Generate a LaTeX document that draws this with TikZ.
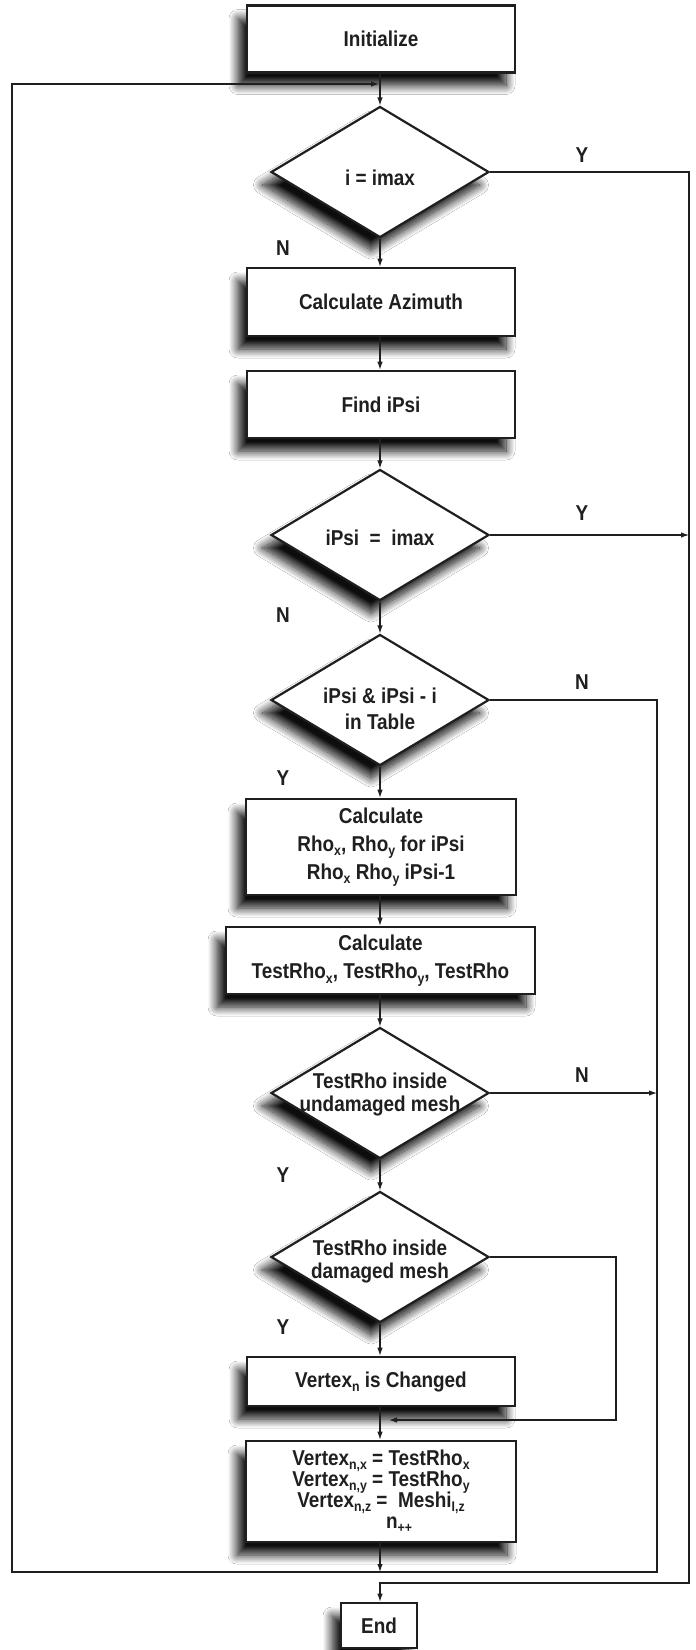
\documentclass[tikz,border=0pt]{standalone}
\usepackage{fontspec}
\setmainfont{Liberation Sans}[FakeStretch=0.88]
\usetikzlibrary{shapes.geometric, arrows.meta, shadows.blur}

% lowered small text for indices
\newcommand{\lo}[1]{\raisebox{-0.2em}{\fontsize{14}{14}\selectfont #1}}

\tikzset{
  txt/.style={font={\fontsize{21.5}{28}\selectfont\bfseries\lineskiplimit=-40pt\relax}, text=black!88},
  dropsh/.style={blur shadow={shadow xshift=-9pt, shadow yshift=-13pt, shadow blur radius=9pt, shadow blur steps=14, shadow opacity=95}},
  box/.style={txt, rectangle, draw=black!88, line width=2.6pt, fill=white,
              minimum width=268pt, minimum height=67pt, inner sep=0pt, align=center, dropsh},
  dec/.style={diamond, draw=black!88, line width=2.2pt, fill=white,
              minimum width=218pt, minimum height=131pt, inner sep=0pt, dropsh},
  dtext/.style={txt, align=center, inner sep=0pt},
  lbl/.style={txt, inner sep=0pt},
  conn/.style={line width=1.1pt, draw=black!88},
  arr/.style={conn, -{Latex[length=8pt,width=5.5pt]}},
}

\begin{document}
\begin{tikzpicture}[x=1pt,y=-1pt]
\useasboundingbox (0,0) rectangle (696,1650);
\fill[white] (0,0) rectangle (696,1650);

% process steps and decisions
\node[box] (init) at (381,39) {Initialize};
\node[dec] (d1) at (380,172) {};
\node[dtext] (d1t) at (380,178) {i = imax};
\node[box, minimum height=68pt] (calcaz) at (381,302) {Calculate Azimuth};
\node[box] (findpsi) at (381,404.5) {Find iPsi};
\node[dec] (d2) at (380,535) {};
\node[dtext] (d2t) at (380,538) {iPsi\ \ =\ \ imax};
\node[dec] (d3) at (380,700) {};
\node[dtext, font={\fontsize{21.5}{26}\selectfont\bfseries}] (d3t) at (380,709) {iPsi \& iPsi - i\\in Table};
\node[box, minimum width=270pt, minimum height=96pt] (rho) at (381,847)
  {Calculate\\Rho\lo{x}, Rho\lo{y} for iPsi\\Rho\lo{x} Rho\lo{y} iPsi-1};
\node[box, minimum width=309pt] (testrho) at (380.5,960.5)
  {Calculate\\TestRho\lo{x}, TestRho\lo{y}, TestRho};
\node[dec] (d4) at (380,1093) {};
\node[dtext, font={\fontsize{21.5}{23}\selectfont\bfseries}] (d4t) at (380,1094) {TestRho inside\\undamaged mesh};
\node[dec] (d5) at (380,1257) {};
\node[dtext, font={\fontsize{21.5}{23}\selectfont\bfseries}] (d5t) at (380,1261) {TestRho inside\\damaged mesh};
\node[box, minimum height=49pt] (vchg) at (381,1381.5) {Vertex\lo{n} is Changed};
\node[box, minimum width=270pt, minimum height=101pt,
      font={\fontsize{21.5}{21}\selectfont\bfseries\lineskiplimit=-40pt\relax}] (fin) at (381,1491.5)
  {Vertex\lo{n,x} = TestRho\lo{x}\\Vertex\lo{n,y} = TestRho\lo{y}\\Vertex\lo{n,z} = \ Meshi\lo{I,z}\\\hspace*{36pt}n\lo{++}};
\node[box, minimum width=76pt, minimum height=45pt] (endb) at (379,1625.5) {End};

% branch labels
\node[lbl] (y1) at (582,155) {Y};
\node[lbl] (n1) at (283,248) {N};
\node[lbl] (y2) at (582,513) {Y};
\node[lbl] (n2) at (283,615) {N};
\node[lbl] (n3) at (582,682) {N};
\node[lbl] (y3) at (283,778) {Y};
\node[lbl] (n4) at (582,1075) {N};
\node[lbl] (y4) at (283,1175) {Y};
\node[lbl] (y5) at (283,1327) {Y};

% routing points
\coordinate (xo) at (689,0);
\coordinate (xi) at (657,0);
\coordinate (oc) at (689,1583);
\coordinate (oe) at (380,1583);
\coordinate (lb) at (657,1572);
\coordinate (ll) at (12,1572);
\coordinate (lt) at (12,84);
\coordinate (la) at (379,84);
\coordinate (jbot) at (380,1572);
\coordinate (rc) at (616,1420);
\coordinate (ra) at (389,1420);

% main flow
\draw[arr] (init.south -| d1.north) -- (d1.north);
\draw[arr] (d1.south) -- (d1.south |- calcaz.north);
\draw[arr] (calcaz.south -| d1.south) -- (findpsi.north -| d1.south);
\draw[arr] (findpsi.south -| d2.north) -- (d2.north);
\draw[arr] (d2.south) -- (d3.north);
\draw[arr] (d3.south) -- (d3.south |- rho.north);
\draw[arr] (rho.south -| d3.south) -- (d3.south |- testrho.north);
\draw[arr] (testrho.south -| d4.north) -- (d4.north);
\draw[arr] (d4.south) -- (d5.north);
\draw[arr] (d5.south) -- (d5.south |- vchg.north);
\draw[arr] (vchg.south -| d5.south) -- (d5.south |- fin.north);
\draw[arr] (fin.south -| jbot) -- (jbot);

% exits and loops
\draw[arr] (d1.east) -| (oc) -- (oe) -- (endb.north -| oe);
\draw[arr] (d2.east) -- (d2.east -| xo);
\draw[arr] (d3.east) -| (lb) -- (ll) -- (lt) -- (la);
\draw[arr] (d4.east) -- (d4.east -| xi);
\draw[arr] (d5.east) -| (rc) -- (ra);
\end{tikzpicture}
\end{document}
